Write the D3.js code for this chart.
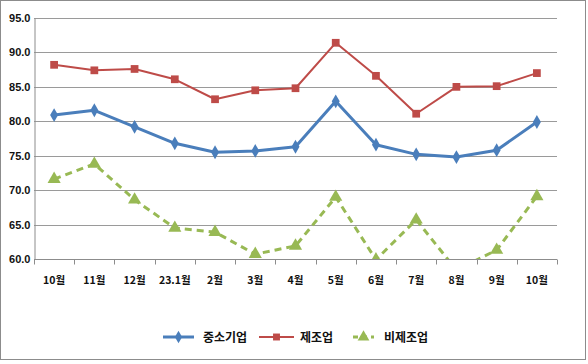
<!DOCTYPE html>
<html>
<head>
<meta charset="utf-8">
<script src="https://cdn.jsdelivr.net/npm/d3@7"></script>
<style>
  body { margin: 0; background: #fff; }
  svg { display: block; }
</style>
</head>
<body>
<script>
// categories and series
const months = ["10월", "11월", "12월", "23.1월", "2월", "3월", "4월", "5월", "6월", "7월", "8월", "9월", "10월"];
const sme = [80.9, 81.6, 79.2, 76.8, 75.5, 75.7, 76.3, 82.9, 76.6, 75.2, 74.8, 75.8, 79.9];
const manuf = [88.2, 87.4, 87.6, 86.1, 83.2, 84.5, 84.8, 91.4, 86.6, 81.1, 85.0, 85.1, 87.0];
const nonManuf = [71.6, 73.8, 68.6, 64.5, 63.9, 60.7, 61.9, 69.0, 59.9, 65.7, 58.4, 61.3, 69.1];
const yTicks = [60, 65, 70, 75, 80, 85, 90, 95];
const seriesNames = ["중소기업", "제조업", "비제조업"];

const width = 588, height = 364;
const margin = { top: 18, right: 31, bottom: 105, left: 34 };

const svg = d3.select("body").append("svg")
  .attr("width", width)
  .attr("height", height)
  .attr("font-family", "'Noto Sans CJK KR', 'DejaVu Sans', sans-serif");

// outer frame
svg.append("rect")
  .attr("x", 0.5).attr("y", 0.5)
  .attr("width", 585).attr("height", 359)
  .attr("fill", "#fff")
  .attr("stroke", "#8c8c8c");

const x = d3.scaleBand()
  .domain(d3.range(months.length))
  .range([margin.left, width - margin.right]);

const y = d3.scaleLinear()
  .domain([60, 95])
  .range([height - margin.bottom, margin.top]);

// gridlines
svg.append("g")
  .selectAll("line")
  .data(yTicks)
  .join("line")
  .attr("x1", margin.left).attr("x2", width - margin.right)
  .attr("y1", d => Math.round(y(d)) + 0.5).attr("y2", d => Math.round(y(d)) + 0.5)
  .attr("stroke", "#9a9a9a");

// y axis
const yAxis = svg.append("g")
  .attr("transform", `translate(${margin.left + 0.5},0)`)
  .call(d3.axisLeft(y).tickValues(yTicks).tickFormat(d3.format(".1f")).tickSize(0).tickPadding(4));
yAxis.select(".domain").attr("stroke", "#8c8c8c");
yAxis.selectAll("text")
  .attr("font-size", 11).attr("fill", "#111").attr("font-weight", "bold");

// x axis with ticks between categories
const xAxisG = svg.append("g")
  .attr("transform", `translate(0,${Math.round(y(60)) + 0.5})`);
xAxisG.append("line")
  .attr("x1", margin.left).attr("x2", width - margin.right)
  .attr("stroke", "#8c8c8c");
xAxisG.selectAll(".tk")
  .data(d3.range(months.length + 1))
  .join("line")
  .attr("class", "tk")
  .attr("x1", i => Math.round(margin.left + i * x.step()) + 0.5)
  .attr("x2", i => Math.round(margin.left + i * x.step()) + 0.5)
  .attr("y1", 0).attr("y2", 5)
  .attr("stroke", "#8c8c8c");
xAxisG.selectAll("text")
  .data(months)
  .join("text")
  .attr("x", (d, i) => x(i) + x.bandwidth() / 2)
  .attr("y", 24)
  .attr("text-anchor", "middle")
  .attr("font-size", 10.5)
  .attr("font-weight", "bold")
  .attr("fill", "#111")
  .text(d => d);

// clip to plot area
svg.append("clipPath").attr("id", "plot")
  .append("rect")
  .attr("x", margin.left).attr("y", margin.top - 10)
  .attr("width", width - margin.left - margin.right)
  .attr("height", y(60) - margin.top + 10);

const cx = i => x(i) + x.bandwidth() / 2;
const line = d3.line().x((d, i) => cx(i)).y(d => y(d));

const series = [
  { name: seriesNames[0], values: sme, color: "#4a7ebb", width: 3, dash: null, marker: "diamond" },
  { name: seriesNames[1], values: manuf, color: "#be4b48", width: 2, dash: null, marker: "square" },
  { name: seriesNames[2], values: nonManuf, color: "#98b954", width: 3, dash: "7,5", marker: "triangle" }
];

const symbolType = { diamond: d3.symbolDiamond, square: d3.symbolSquare, triangle: d3.symbolTriangle };
const symbolSize = { diamond: 55, square: 60, triangle: 75 };

const plot = svg.append("g").attr("clip-path", "url(#plot)");

series.forEach(s => {
  plot.append("path")
    .datum(s.values)
    .attr("d", line)
    .attr("fill", "none")
    .attr("stroke", s.color)
    .attr("stroke-width", s.width)
    .attr("stroke-dasharray", s.dash)
    .attr("stroke-linejoin", "round");
  plot.selectAll(null)
    .data(s.values.map((v, i) => [i, v]).filter(d => d[1] >= 59.8))
    .join("path")
    .attr("transform", d => `translate(${cx(d[0])},${y(d[1])})`)
    .attr("d", d3.symbol().type(symbolType[s.marker]).size(symbolSize[s.marker]))
    .attr("fill", s.color);
});

// legend
const legendItems = [
  { s: series[0], x1: 163, x2: 194, tx: 203 },
  { s: series[1], x1: 259, x2: 294, tx: 300 },
  { s: series[2], x1: 353, x2: 374, tx: 384 }
];
const legend = svg.append("g").attr("transform", "translate(0,337)");
legendItems.forEach(it => {
  legend.append("line")
    .attr("x1", it.x1).attr("x2", it.x2)
    .attr("stroke", it.s.color)
    .attr("stroke-width", it.s.width)
    .attr("stroke-dasharray", it.s.dash ? "5,4" : null);
  legend.append("path")
    .attr("transform", `translate(${(it.x1 + it.x2) / 2},0)`)
    .attr("d", d3.symbol().type(symbolType[it.s.marker]).size(symbolSize[it.s.marker] * 0.8))
    .attr("fill", it.s.color);
  legend.append("text")
    .attr("x", it.tx).attr("y", 4.5)
    .attr("font-size", 12)
    .attr("font-weight", "bold")
    .attr("fill", "#111")
    .text(it.s.name);
});
</script>
</body>
</html>
